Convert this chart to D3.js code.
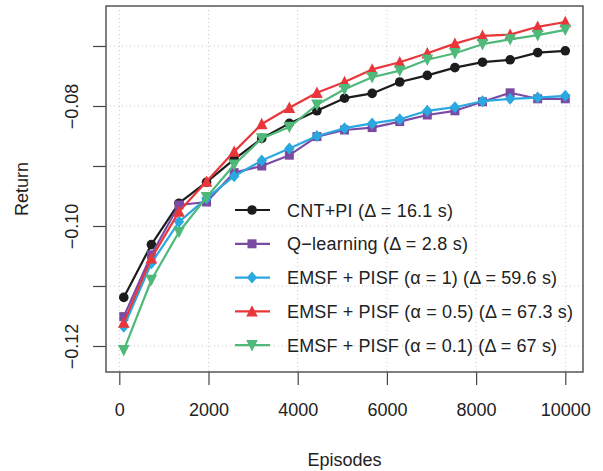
<!DOCTYPE html>
<html>
<head>
<meta charset="utf-8">
<script src="https://cdn.jsdelivr.net/npm/d3@7"></script>
<style>
  html, body { margin: 0; padding: 0; background: #fff; }
  svg { display: block; }
  text { font-family: "Liberation Sans", Arial, Helvetica, sans-serif; fill: #222; }
</style>
</head>
<body>
<svg id="chart" width="603" height="471"></svg>
<script>
// ---- data ----
const episodes = [100, 719, 1338, 1956, 2575, 3194, 3813, 4431, 5050, 5669, 6288, 6906, 7525, 8144, 8763, 9381, 10000];
const cntPI   = [-0.1119, -0.1031, -0.0962, -0.0927, -0.0889, -0.0854, -0.0829, -0.0808, -0.0787, -0.0779, -0.0760, -0.0749, -0.0736, -0.0727, -0.0723, -0.0711, -0.0708];
const qLearn  = [-0.1151, -0.1048, -0.0965, -0.0960, -0.0911, -0.0900, -0.0882, -0.0851, -0.0840, -0.0836, -0.0826, -0.0815, -0.0808, -0.0793, -0.0778, -0.0788, -0.0788];
const emsf1   = [-0.1168, -0.1062, -0.0993, -0.0954, -0.0917, -0.0891, -0.0871, -0.0850, -0.0837, -0.0829, -0.0822, -0.0808, -0.0802, -0.0792, -0.0788, -0.0786, -0.0783];
const emsf05  = [-0.1161, -0.1054, -0.0976, -0.0926, -0.0876, -0.0830, -0.0803, -0.0778, -0.0760, -0.0739, -0.0727, -0.0712, -0.0696, -0.0683, -0.0681, -0.0668, -0.0660];
const emsf01  = [-0.1207, -0.1090, -0.1010, -0.0952, -0.0898, -0.0854, -0.0835, -0.0798, -0.0772, -0.0752, -0.0741, -0.0723, -0.0712, -0.0697, -0.0689, -0.0682, -0.0673];
const seriesNames = ["CNT+PI (\u0394 = 16.1 s)", "Q\u2212learning (\u0394 = 2.8 s)", "EMSF + PISF (\u03b1 = 1) (\u0394 = 59.6 s)", "EMSF + PISF (\u03b1 = 0.5) (\u0394 = 67.3 s)", "EMSF + PISF (\u03b1 = 0.1) (\u0394 = 67 s)"];
const xTicks = [0, 2000, 4000, 6000, 8000, 10000];
const yTicks = [-0.07, -0.08, -0.09, -0.10, -0.11, -0.12];
const yTickLabels = ["", "\u22120.08", "", "\u22120.10", "", "\u22120.12"];

const seriesData = [cntPI, qLearn, emsf1, emsf05, emsf01];
const colors = ["#1c1c1c", "#7b4ba3", "#2aa8e0", "#e8363b", "#4fb97a"];
const shapes = ["circle", "square", "diamond", "up", "down"];
const legendWidths = [166, 181, 270, 286, 270];

// ---- layout ----
const box = {l: 106, r: 583, t: 6, b: 372};
const x = d3.scaleLinear().domain([0, 10000]).range([119.3, 565.3]);
const y = d3.scaleLinear().domain([-0.07, -0.12]).range([46, 346]);

const svg = d3.select("#chart");

// grid
const grid = svg.append("g").attr("stroke", "#c8c8c8").attr("stroke-width", 1).attr("stroke-dasharray", "1,3");
grid.selectAll("line.v").data(xTicks).enter().append("line")
  .attr("x1", d => x(d)).attr("x2", d => x(d)).attr("y1", box.t).attr("y2", box.b);
grid.selectAll("line.h").data(yTicks).enter().append("line")
  .attr("y1", d => y(d)).attr("y2", d => y(d)).attr("x1", box.l).attr("x2", box.r);

// axes
const xAxis = d3.axisBottom(x).tickValues(xTicks).tickSize(13).tickPadding(18).tickFormat(d3.format("d"));
const gx = svg.append("g").attr("transform", `translate(0,${box.b})`).call(xAxis);
gx.select(".domain").remove();
gx.selectAll(".tick line").attr("stroke", "#444").attr("stroke-width", 1.2);
gx.selectAll(".tick text").attr("font-size", 18).attr("fill", "#222")
  .attr("font-family", "'Liberation Sans', Arial, sans-serif").attr("dy", null).attr("y", 44);

const yAxis = d3.axisLeft(y).tickValues(yTicks).tickSize(13).tickFormat((d, i) => yTickLabels[i]);
const gy = svg.append("g").attr("transform", `translate(${box.l},0)`).call(yAxis);
gy.select(".domain").remove();
gy.selectAll(".tick line").attr("stroke", "#444").attr("stroke-width", 1.2);
gy.selectAll(".tick text").attr("font-size", 18).attr("fill", "#222")
  .attr("font-family", "'Liberation Sans', Arial, sans-serif")
  .attr("x", null).attr("dy", null).attr("text-anchor", "middle")
  .attr("transform", "translate(-28,0) rotate(-90)");

// box
svg.append("rect").attr("x", box.l).attr("y", box.t).attr("width", box.r - box.l).attr("height", box.b - box.t)
  .attr("fill", "none").attr("stroke", "#555").attr("stroke-width", 1.5);

// marker paths
function markerPath(shape) {
  switch (shape) {
    case "circle": return d3.symbol(d3.symbolCircle, Math.PI * 4.8 * 4.8)();
    case "square": return "M-4.5,-4.5H4.5V4.5H-4.5Z";
    case "diamond": return "M0,-6L5.2,0L0,6L-5.2,0Z";
    case "up": return "M0,-6.2L5.8,5.2L-5.8,5.2Z";
    case "down": return "M0,6.2L5.8,-5.2L-5.8,-5.2Z";
  }
}

// series
const line = d3.line().x((d, i) => x(episodes[i])).y(d => y(d));
seriesData.forEach((vals, si) => {
  const g = svg.append("g");
  g.append("path").datum(vals).attr("d", line).attr("fill", "none")
    .attr("stroke", colors[si]).attr("stroke-width", 2.2).attr("stroke-linejoin", "round");
  g.selectAll("path.m").data(vals).enter().append("path")
    .attr("d", markerPath(shapes[si]))
    .attr("transform", (d, i) => `translate(${x(episodes[i])},${y(d)})`)
    .attr("fill", colors[si]);
});

// legend
const leg = svg.append("g");
const legY0 = 210, legDy = 33.8;
seriesNames.forEach((name, i) => {
  const yy = legY0 + i * legDy;
  leg.append("line").attr("x1", 235).attr("x2", 270).attr("y1", yy).attr("y2", yy)
    .attr("stroke", colors[i]).attr("stroke-width", 2.2);
  leg.append("path").attr("d", markerPath(shapes[i])).attr("transform", `translate(252,${yy})`).attr("fill", colors[i]);
  leg.append("text").attr("x", 287).attr("y", yy + 6.5).attr("font-size", 18)
    .attr("textLength", legendWidths[i]).attr("lengthAdjust", "spacing").text(name);
});

// axis titles
svg.append("text").attr("x", 344.5).attr("y", 466).attr("text-anchor", "middle").attr("font-size", 18).text("Episodes");
svg.append("text").attr("transform", "translate(28,189) rotate(-90)").attr("text-anchor", "middle").attr("font-size", 18).text("Return");
</script>
</body>
</html>
